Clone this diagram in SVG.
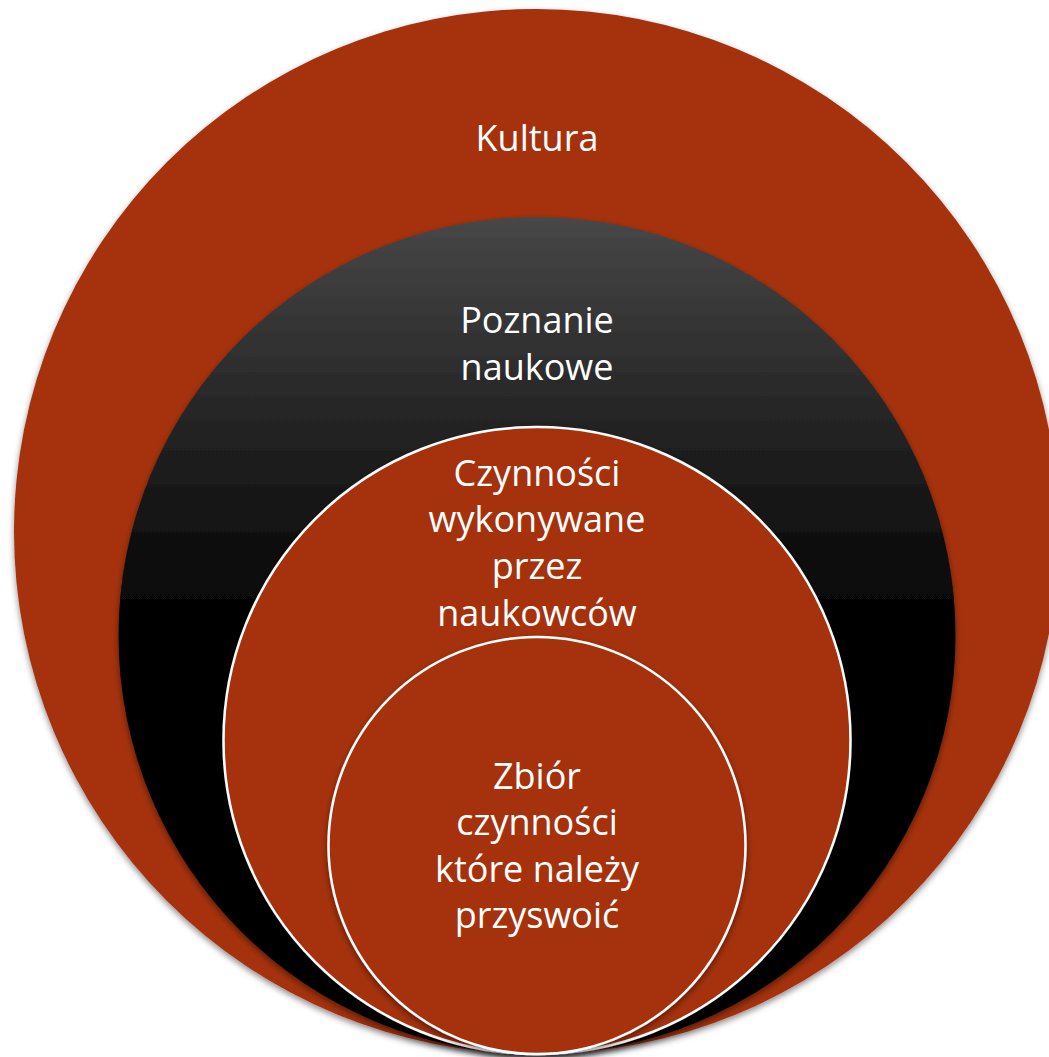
<svg xmlns="http://www.w3.org/2000/svg" width="1049" height="1057" viewBox="0 0 1049 1057">
<defs>
<linearGradient id="dark" x1="0" y1="0" x2="0" y2="1">
<stop offset="0" stop-color="#474747"/>
<stop offset="0.5" stop-color="#000000"/>
<stop offset="1" stop-color="#000000"/>
</linearGradient>
<filter id="sh" x="-10%" y="-10%" width="120%" height="125%">
<feDropShadow dx="0" dy="3" stdDeviation="3" flood-color="#000" flood-opacity="0.45"/>
</filter>
</defs>
<style>
.red{fill:#A5300F;}
.ring{stroke:#ffffff;stroke-width:2.5;}
.lbl{font-family:"Open Sans","Liberation Sans",sans-serif;font-size:36px;fill:#ffffff;text-anchor:middle;}
</style>
<rect width="1049" height="1057" fill="#ffffff"/>
<g id="kultura">
<circle class="red" cx="536.5" cy="531.5" r="522.5" filter="url(#sh)"/>
<text class="lbl" x="537" y="151">Kultura</text>
</g>
<g id="poznanie">
<circle cx="537" cy="635.5" r="418.5" fill="url(#dark)" filter="url(#sh)"/>
<text class="lbl" x="537" y="333">Poznanie</text>
<text class="lbl" x="537" y="379.5">naukowe</text>
</g>
<g id="czynnosci">
<circle class="red ring" cx="537" cy="740.5" r="313.5" filter="url(#sh)"/>
<text class="lbl" x="537" y="486">Czynności</text>
<text class="lbl" x="537" y="532">wykonywane</text>
<text class="lbl" x="537" y="579">przez</text>
<text class="lbl" x="537" y="626">naukowców</text>
</g>
<g id="zbior">
<circle class="red ring" cx="537" cy="845.5" r="208.5" filter="url(#sh)"/>
<text class="lbl" x="537" y="788.5">Zbiór</text>
<text class="lbl" x="537" y="835">czynności</text>
<text class="lbl" x="537" y="881.5">które należy</text>
<text class="lbl" x="537" y="928">przyswoić</text>
</g>
<g id="connectors"/>
</svg>
